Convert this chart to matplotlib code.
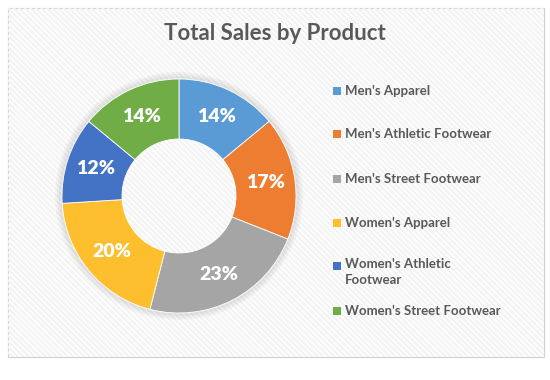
import matplotlib
matplotlib.use("Agg")
from matplotlib import pyplot as plt
from matplotlib.patches import Rectangle, Wedge

# data
products = ["Men's Apparel", "Men's Athletic Footwear", "Men's Street Footwear",
            "Women's Apparel", "Women's Athletic\nFootwear", "Women's Street Footwear"]
shares = [14, 17, 23, 20, 12, 14]
colors = ["#5B9BD5", "#ED7D31", "#A5A5A5", "#FDBF2D", "#4472C4", "#70AD47"]
title = "Total Sales by Product"

W, H = 550, 380
TEXT_GREY = "#595959"
FONT = ["Lato", "DejaVu Sans"]
plt.rcParams["hatch.linewidth"] = 1.6

fig = plt.figure(figsize=(W / 100, H / 100), dpi=100)

# chart area: light border + faint diagonal stripes
bg = Rectangle((7.5 / W, 1 - 357 / H), (544 - 7.5) / W, (357 - 7.5) / H,
               transform=fig.transFigure, facecolor="white", edgecolor="#d0d0d0",
               linewidth=0.8, zorder=-2)
fig.patches.append(bg)
stripes = Rectangle((8 / W, 1 - 356.5 / H), (543.5 - 8) / W, (356.5 - 8) / H,
                    transform=fig.transFigure, facecolor="none", edgecolor="#f3f3f3",
                    hatch="\\\\\\\\\\\\", linewidth=0, zorder=-1)
fig.patches.append(stripes)

fig.text(275 / W, 1 - 34 / H, title, ha="center", va="center", fontsize=16,
         fontweight="bold", color=TEXT_GREY, family=FONT)

# donut
cx, cy, box = 179, 196, 250
ax = fig.add_axes([(cx - box / 2) / W, (H - cy - box / 2) / H, box / W, box / H])
ax.set_zorder(1)
ax.set_xlim(-1.25, 1.25)
ax.set_ylim(-1.25, 1.25)
ax.set_aspect("equal")
ax.axis("off")

# soft shadow around the outer edge of the ring
for r in (1.24, 1.22, 1.20):
    ax.add_patch(Wedge((0, 0), r, 0, 360, width=r - 1.1, facecolor="#000000",
                       alpha=0.03, edgecolor="none"))

wedges, texts, autotexts = ax.pie(
    shares, colors=colors, startangle=90, counterclock=False, radius=1.17,
    autopct="%d%%", pctdistance=0.75,
    wedgeprops=dict(width=0.6, edgecolor="white", linewidth=0.6),
    textprops=dict(color="white", fontsize=14, fontweight="heavy", family=FONT))

# legend (right side)
legend_y = [91, 134, 179, 223, 266, 311]
for label, col, y in zip(products, colors, legend_y):
    fig.patches.append(Rectangle((333 / W, 1 - (y + 4) / H), 8 / W, 8 / H,
                                 transform=fig.transFigure, facecolor=col,
                                 edgecolor="none", zorder=2))
    if "\n" in label:
        fig.text(345 / W, 1 - (y - 8) / H, label, ha="left", va="top",
                 fontsize=9.5, fontweight="bold", color=TEXT_GREY, family=FONT,
                 linespacing=1.45)
    else:
        fig.text(345 / W, 1 - y / H, label, ha="left", va="center",
                 fontsize=9.5, fontweight="bold", color=TEXT_GREY, family=FONT)

fig.savefig("out.png", dpi=100)
